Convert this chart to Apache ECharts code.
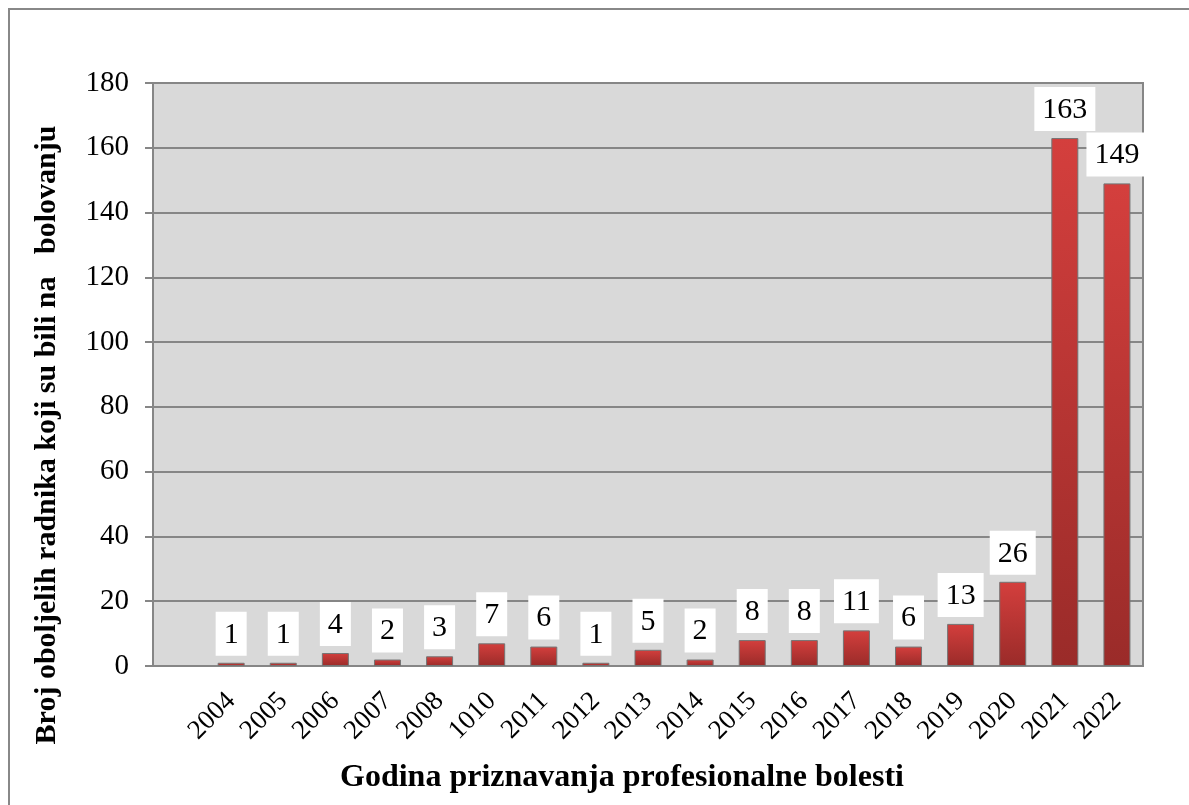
<!DOCTYPE html>
<html>
<head>
    <meta charset="utf-8">
    <title>Broj oboljelih radnika na bolovanju</title>
    <script type="text/javascript" src="https://cdn.jsdelivr.net/npm/echarts@6/dist/echarts.min.js"></script>
    <style>
        html, body { margin: 0; padding: 0; background: #fff; }
    </style>
</head>
<body>
    <div id="main" style="width:1189px; height:805px;"></div>
    <script type="text/javascript">

    // godine (prva kategorija je prazna, kao u originalu)
    var godine = ['', '2004', '2005', '2006', '2007', '2008', '1010', '2011', '2012', '2013',
        '2014', '2015', '2016', '2017', '2018', '2019', '2020', '2021', '2022'];
    // broj oboljelih radnika
    var broj = [null, 1, 1, 4, 2, 3, 7, 6, 1, 5, 2, 8, 8, 11, 6, 13, 26, 163, 149];
    var yTicks = [0, 20, 40, 60, 80, 100, 120, 140, 160, 180];

    var serif = '"Liberation Serif", "Times New Roman", serif';
    var myChart = echarts.init(document.getElementById('main'));

    var option = {
        backgroundColor: '#fff',
        animation: false,
        grid: {
            left: 153,
            top: 83,
            right: 46,
            bottom: 139,
            show: true,
            backgroundColor: '#d9d9d9',
            borderColor: '#868686',
            borderWidth: 2
        },
        xAxis: {
            type: 'category',
            data: godine,
            axisLine: { lineStyle: { color: '#868686', width: 2 } },
            axisTick: { show: false },
            axisLabel: {
                rotate: 45,
                interval: 0,
                margin: 31,
                color: '#000',
                fontSize: 27,
                fontFamily: serif
            }
        },
        yAxis: {
            type: 'value',
            min: yTicks[0],
            max: yTicks[yTicks.length - 1],
            interval: 20,
            axisLine: { show: true, lineStyle: { color: '#868686', width: 2 } },
            axisTick: { show: true, inside: false, length: 8, lineStyle: { color: '#868686', width: 2 } },
            splitLine: { lineStyle: { color: '#868686', width: 2 } },
            axisLabel: {
                margin: 24,
                color: '#000',
                fontSize: 29,
                fontFamily: serif
            }
        },
        series: [{
            type: 'bar',
            data: broj,
            barWidth: 27,
            itemStyle: {
                color: new echarts.graphic.LinearGradient(0, 0, 0, 1, [
                    { offset: 0, color: '#d43f3d' },
                    { offset: 1, color: '#9a2b29' }
                ]),
                borderColor: '#747474',
                borderWidth: 1
            },
            label: {
                show: true,
                position: 'top',
                distance: 7,
                color: '#000',
                fontSize: 30,
                lineHeight: 28,
                fontFamily: serif,
                backgroundColor: '#fff',
                padding: [9, 8, 7, 8]
            }
        }],
        graphic: [
            {
                type: 'rect',
                z: -1,
                shape: { x: 9, y: 9, width: 1200, height: 820 },
                style: { fill: 'none', stroke: '#888', lineWidth: 2 }
            },
            {
                type: 'text',
                x: 622,
                y: 778,
                style: {
                    text: 'Godina priznavanja profesionalne bolesti',
                    font: 'bold 32px ' + serif,
                    fill: '#000',
                    align: 'center',
                    verticalAlign: 'middle'
                }
            },
            {
                type: 'text',
                x: 47,
                y: 435,
                rotation: Math.PI / 2,
                style: {
                    text: 'Broj oboljelih radnika koji su bili na   bolovanju',
                    font: 'bold 30px ' + serif,
                    fill: '#000',
                    align: 'center',
                    verticalAlign: 'middle'
                }
            }
        ]
    };

    myChart.setOption(option);
    </script>
</body>
</html>
